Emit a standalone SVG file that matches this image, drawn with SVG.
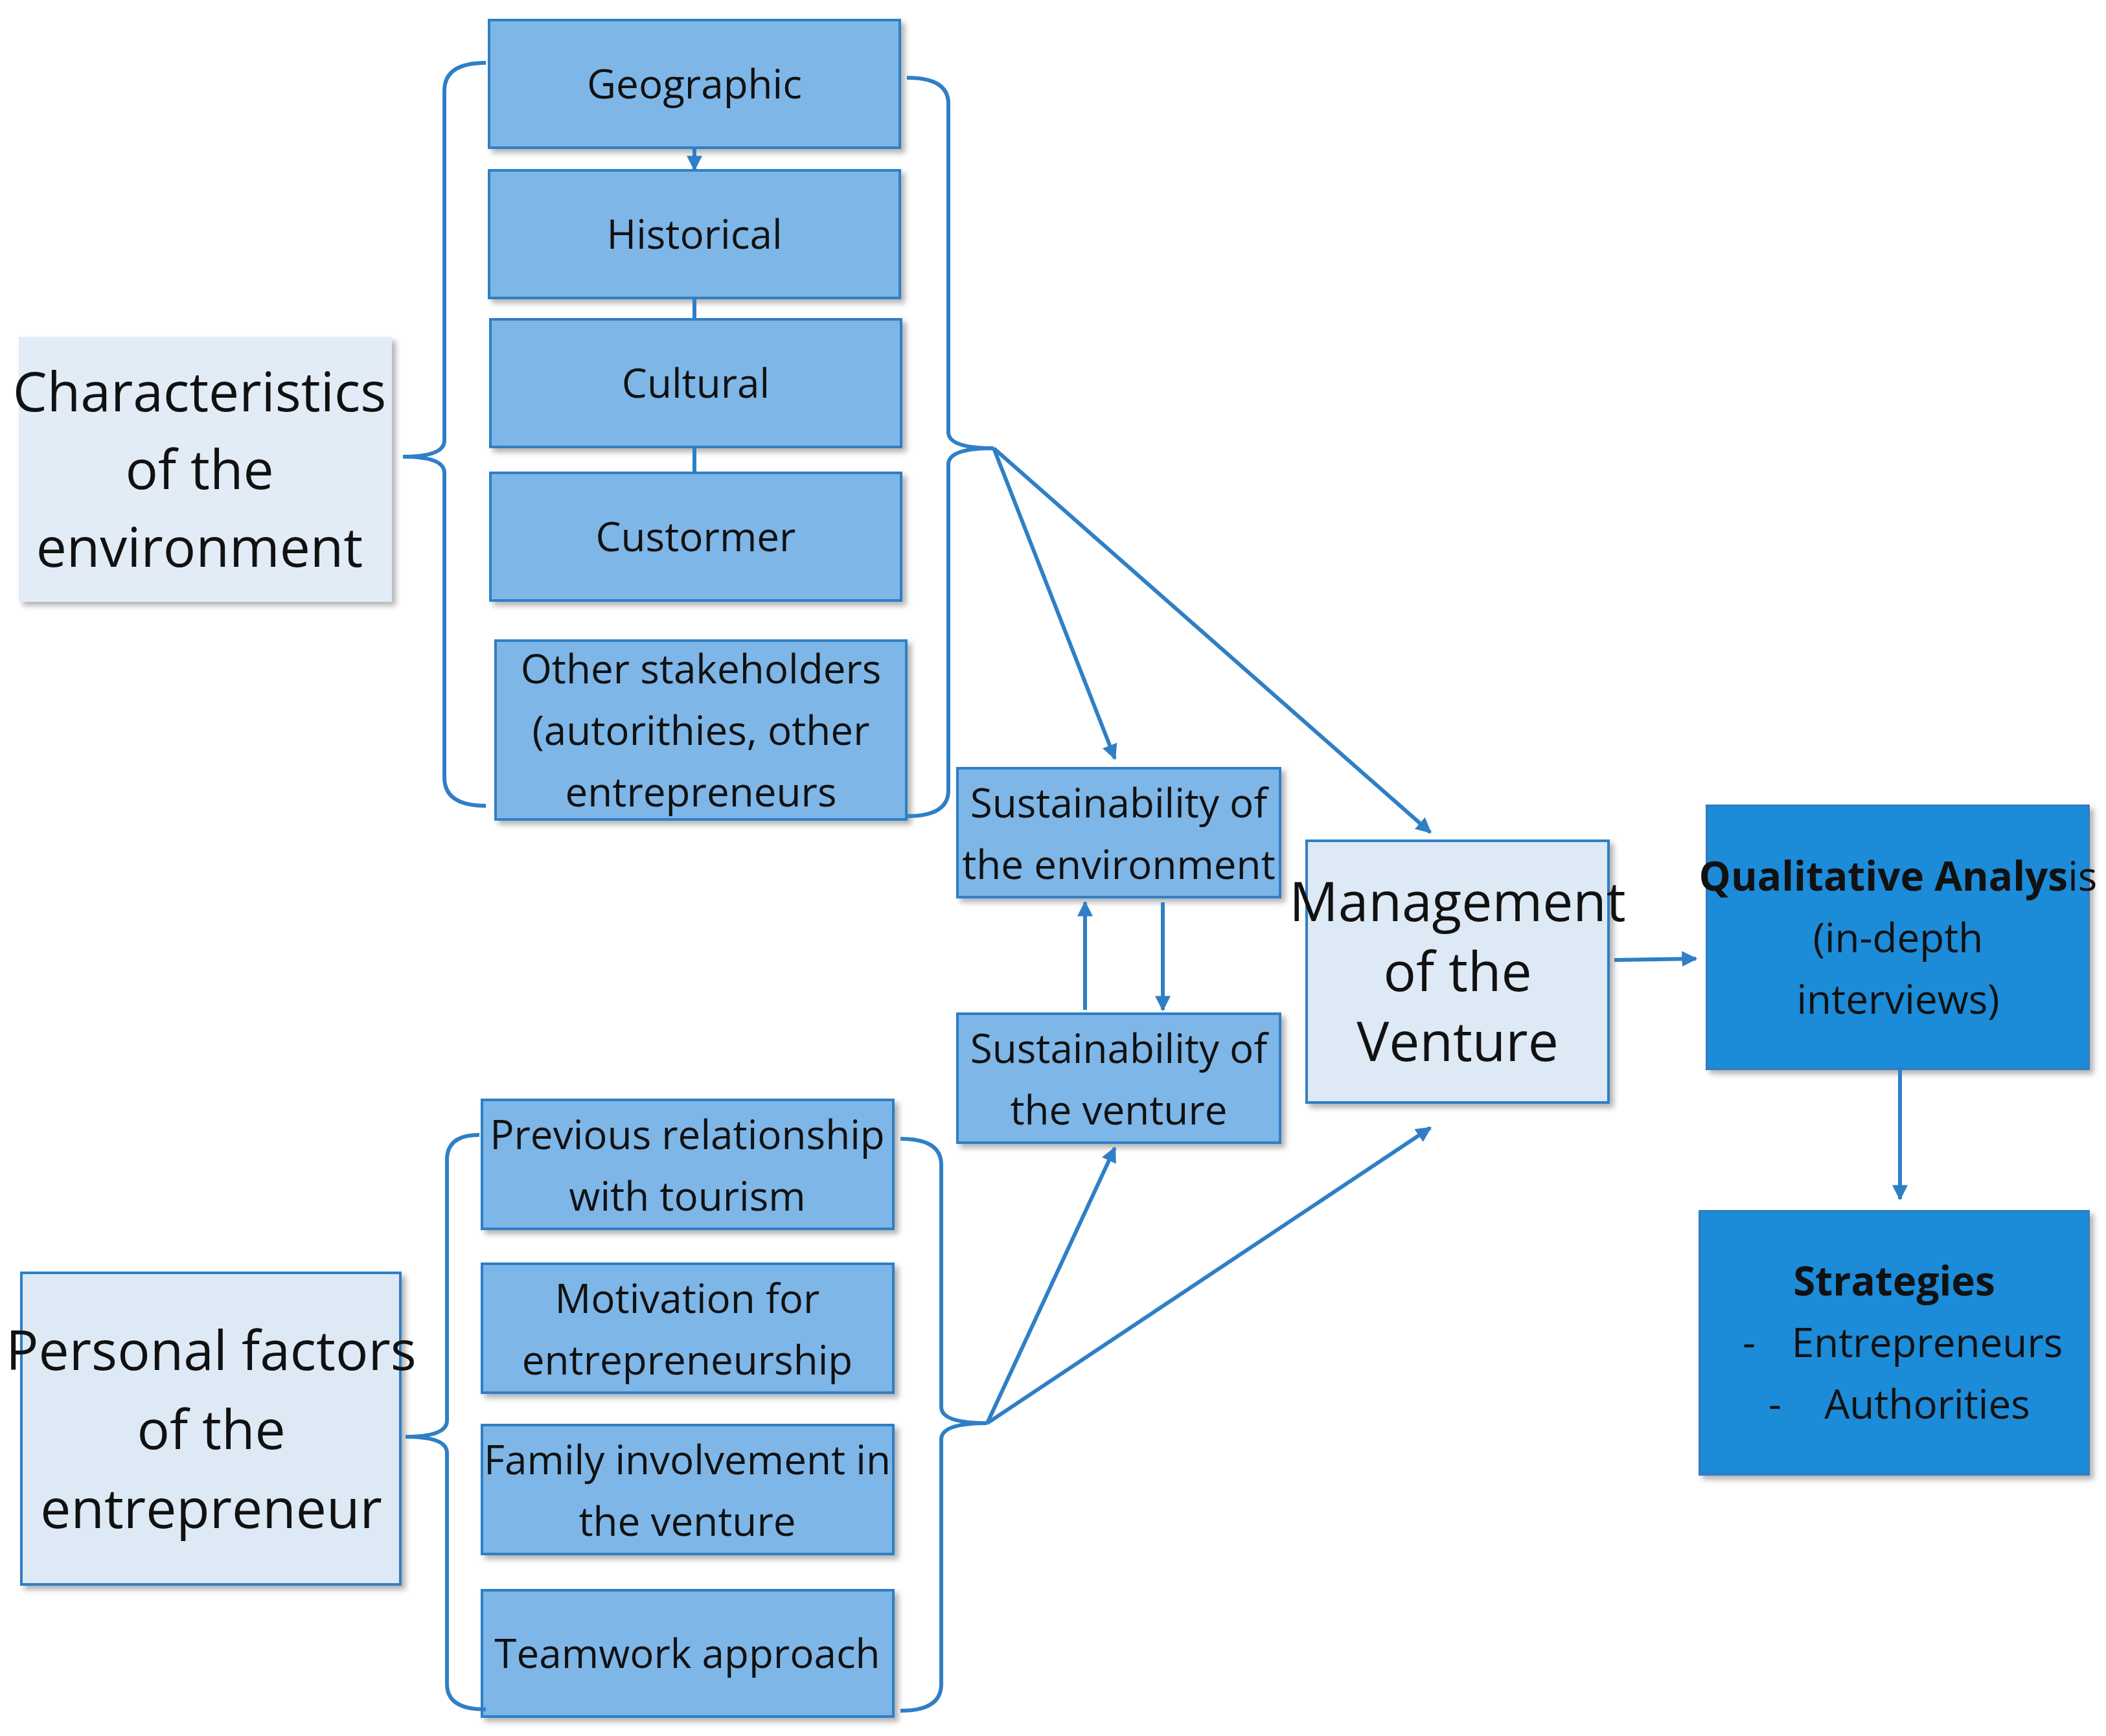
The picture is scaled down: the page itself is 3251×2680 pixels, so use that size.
<svg xmlns="http://www.w3.org/2000/svg" width="3251" height="2680" viewBox="0 0 3251 2680">
<defs>
<marker id="ah" viewBox="0 0 10 10" refX="9" refY="5" markerWidth="4" markerHeight="4" orient="auto"><path d="M0,0 L10,5 L0,10 z" fill="#2F7FC6"/></marker>
<filter id="sh" x="-5%" y="-5%" width="115%" height="115%"><feDropShadow dx="6" dy="6" stdDeviation="4" flood-color="#000" flood-opacity="0.3"/></filter>
</defs>
<style>
.b{fill:#7EB6E8;stroke:#2F7FC6;stroke-width:4;filter:url(#sh)}
.l{fill:#DDE9F5;stroke:#2F7FC6;stroke-width:4;filter:url(#sh)}
.d{fill:#1F8BD8;stroke:#2F7FC6;stroke-width:4;filter:url(#sh)}
.lt{fill:#E2ECF6;filter:url(#sh)}
text{font-family:"Open Sans","Liberation Sans",sans-serif;fill:#111;text-anchor:middle}
.t{font-size:62px}
.T{font-size:84px}
.c path,.c line{fill:none;stroke:#2F7FC6;stroke-width:6}
</style>
<rect width="3251" height="2680" fill="#fff"/>
<g id="characteristics"><rect class="lt" x="29" y="520" width="576" height="409"/><text class="T" x="308" y="635">Characteristics</text><text class="T" x="308" y="755">of the</text><text class="T" x="308" y="875">environment</text></g>
<g id="geographic"><rect class="b" x="755" y="31" width="634" height="197"/><text class="t" x="1072" y="152">Geographic</text></g>
<g id="historical"><rect class="b" x="755" y="263" width="634" height="197"/><text class="t" x="1072" y="384">Historical</text></g>
<g id="cultural"><rect class="b" x="757" y="493" width="634" height="197"/><text class="t" x="1074" y="614">Cultural</text></g>
<g id="customer"><rect class="b" x="757" y="730" width="634" height="197"/><text class="t" x="1074" y="851">Custormer</text></g>
<g id="stakeholders"><rect class="b" x="765" y="989" width="634" height="276"/><text class="t" x="1082" y="1055">Other stakeholders</text><text class="t" x="1082" y="1150">(autorithies, other</text><text class="t" x="1082" y="1245">entrepreneurs</text></g>
<g id="sust-env"><rect class="b" x="1478" y="1186" width="498" height="199"/><text class="t" x="1727" y="1262">Sustainability of</text><text class="t" x="1727" y="1357">the environment</text></g>
<g id="sust-venture"><rect class="b" x="1478" y="1565" width="498" height="199"/><text class="t" x="1727" y="1641">Sustainability of</text><text class="t" x="1727" y="1736">the venture</text></g>
<g id="management"><rect class="l" x="2017" y="1298" width="466" height="404"/><text class="T" x="2250" y="1422">Management</text><text class="T" x="2250" y="1530">of the</text><text class="T" x="2250" y="1638">Venture</text></g>
<g id="qualitative"><rect class="d" x="2635" y="1244" width="589" height="406"/><text class="t" x="2930" y="1375"><tspan font-weight="bold">Qualitative Analys</tspan>is</text><text class="t" x="2930" y="1470">(in-depth</text><text class="t" x="2930" y="1565">interviews)</text></g>
<g id="strategies"><rect class="d" x="2624" y="1870" width="600" height="406"/><text class="t" x="2924" y="2000" font-weight="bold">Strategies</text><text class="t" x="2700" y="2095">-</text><text class="t" x="2975" y="2095">Entrepreneurs</text><text class="t" x="2740" y="2190">-</text><text class="t" x="2975" y="2190">Authorities</text></g>
<g id="personal"><rect class="l" x="33" y="1965" width="585" height="481"/><text class="T" x="326" y="2115">Personal factors</text><text class="T" x="326" y="2237">of the</text><text class="T" x="326" y="2359">entrepreneur</text></g>
<g id="previous"><rect class="b" x="744" y="1698" width="635" height="199"/><text class="t" x="1061" y="1774">Previous relationship</text><text class="t" x="1061" y="1869">with tourism</text></g>
<g id="motivation"><rect class="b" x="744" y="1951" width="635" height="199"/><text class="t" x="1061" y="2027">Motivation for</text><text class="t" x="1061" y="2122">entrepreneurship</text></g>
<g id="family"><rect class="b" x="744" y="2200" width="635" height="199"/><text class="t" x="1061" y="2276">Family involvement in</text><text class="t" x="1061" y="2371">the venture</text></g>
<g id="teamwork"><rect class="b" x="744" y="2455" width="635" height="195"/><text class="t" x="1061" y="2575">Teamwork approach</text></g>
<g id="connectors" class="c">
<path d="M750,97 Q686,97 686,140 L686,680 Q686,705 622,705 Q686,705 686,730 L686,1200 Q686,1244 750,1244"/>
<path d="M1400,120 Q1464,120 1464,160 L1464,667 Q1464,692 1534,692 Q1464,692 1464,717 L1464,1220 Q1464,1260 1400,1260"/>
<path d="M740,1752 Q690,1752 690,1790 L690,2193 Q690,2218 626,2218 Q690,2218 690,2243 L690,2600 Q690,2639 750,2639"/>
<path d="M1390,1758 Q1453,1758 1453,1798 L1453,2172 Q1453,2197 1524,2197 Q1453,2197 1453,2222 L1453,2600 Q1453,2641 1390,2641"/>
<line x1="1072" y1="228" x2="1072" y2="262" marker-end="url(#ah)"/>
<line x1="1072" y1="460" x2="1072" y2="493"/>
<line x1="1072" y1="690" x2="1072" y2="730"/>
<line x1="1534" y1="692" x2="1721" y2="1171" marker-end="url(#ah)"/>
<line x1="1534" y1="692" x2="2208" y2="1285" marker-end="url(#ah)"/>
<line x1="1524" y1="2197" x2="1721" y2="1772" marker-end="url(#ah)"/>
<line x1="1524" y1="2197" x2="2208" y2="1741" marker-end="url(#ah)"/>
<line x1="1675" y1="1559" x2="1675" y2="1393" marker-end="url(#ah)"/>
<line x1="1795" y1="1393" x2="1795" y2="1559" marker-end="url(#ah)"/>
<line x1="2492" y1="1482" x2="2618" y2="1480" marker-end="url(#ah)"/>
<line x1="2933" y1="1652" x2="2933" y2="1851" marker-end="url(#ah)"/>
</g>
</svg>
